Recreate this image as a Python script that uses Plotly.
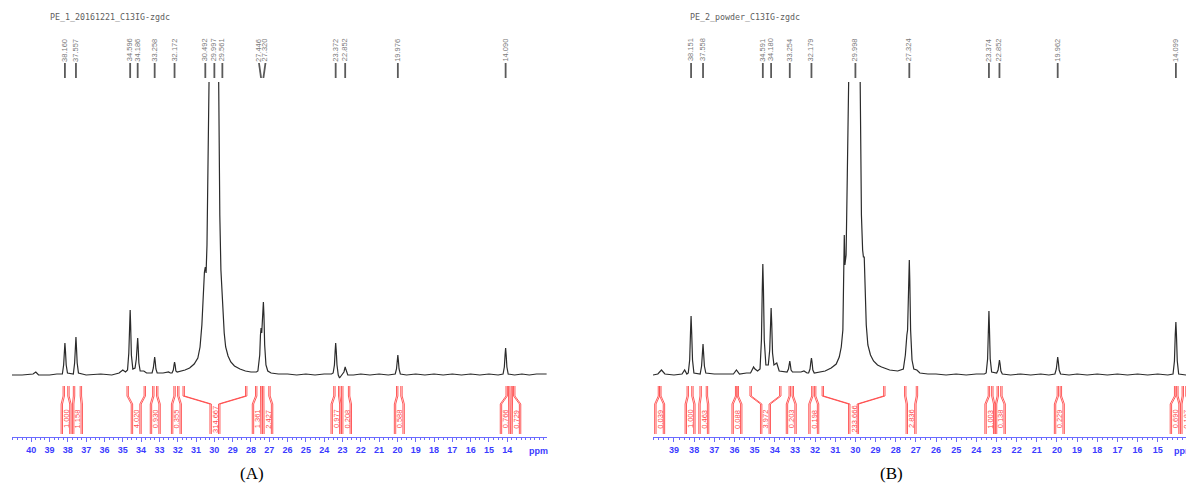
import plotly.graph_objects as go

# ---------------- data ----------------
title_a = "PE_1_20161221_C13IG-zgdc"
title_b = "PE_2_powder_C13IG-zgdc"

tick_a = list(range(40, 13, -1))
tick_b = list(range(39, 14, -1))

peaks_a = [38.160, 37.557, 34.596, 34.186, 33.258, 32.172, 30.492, 29.997,
           29.561, 27.446, 27.320, 23.372, 22.852, 19.976, 14.090]
peaks_b = [38.151, 37.558, 34.591, 34.180, 33.254, 32.179, 29.998, 27.324,
           23.374, 22.852, 19.962, 14.099]

int_a_from = [38.26, 37.70, 34.77, 33.37, 32.21, 31.71, 27.75, 27.37, 23.48, 23.05, 20.05, 14.07, 13.78]
int_a_to   = [37.93, 37.25, 33.76, 33.08, 31.93, 28.22, 27.40, 26.95, 23.14, 22.60, 19.74, 13.86, 13.58]
int_a_val  = ["1.000", "1.158", "4.020", "0.930", "0.355", "314.667", "1.361", "2.427",
              "0.977", "0.208", "0.588", "0.766", "0.729"]

int_b_from = [39.78, 38.35, 37.71, 35.95, 35.23, 33.29, 32.17, 31.65, 27.56, 23.41, 22.97, 19.99, 14.17, 13.79]
int_b_to   = [39.64, 38.05, 37.33, 35.80, 33.69, 33.07, 31.96, 28.53, 26.91, 23.17, 22.72, 19.77, 13.99, 13.54]
int_b_val  = ["0.039", "1.000", "0.463", "0.088", "3.972", "0.203", "0.198", "233.666",
              "2.836", "1.003", "0.138", "0.229", "0.690", "0.187"]

spec_a_ppm = [41.20, 40.50, 39.90, 39.75, 39.60, 39.00, 38.60,
              38.30, 38.23, 38.19, 38.16, 38.13, 38.09, 38.02,
              37.70, 37.63, 37.59, 37.557, 37.53, 37.49, 37.42,
              37.00, 36.20, 35.60, 35.20, 35.00, 34.85,
              34.74, 34.67, 34.63, 34.596, 34.57, 34.53, 34.45,
              34.33, 34.26, 34.22, 34.186, 34.16, 34.12, 34.05,
              33.85, 33.70, 33.40, 33.33, 33.29, 33.258, 33.23, 33.19, 33.12,
              32.80, 32.50, 32.40, 32.31, 32.24, 32.20, 32.172, 32.14, 32.10, 32.03,
              31.80, 31.60, 31.35, 31.10, 30.90, 30.78, 30.68, 30.60, 30.54, 30.492,
              30.45, 30.40, 30.36, 30.30, 30.20, 30.10, 29.997, 29.90, 29.82, 29.76,
              29.70, 29.64, 29.60, 29.561, 29.52, 29.46, 29.38, 29.25, 29.10, 28.90,
              28.60, 28.30, 28.00, 27.70,
              27.62, 27.52, 27.48, 27.446, 27.41, 27.37, 27.35, 27.32, 27.29, 27.25, 27.18, 27.08,
              26.90, 26.50, 26.00, 25.50, 25.00, 24.50, 24.00, 23.60,
              23.51, 23.44, 23.40, 23.372, 23.34, 23.30, 23.23, 23.16, 23.08,
              22.99, 22.92, 22.88, 22.852, 22.82, 22.78, 22.71,
              22.40, 22.00, 21.50, 21.00, 20.50,
              20.12, 20.05, 20.01, 19.976, 19.95, 19.91, 19.84,
              19.50, 19.00, 18.50, 18.00, 17.50, 17.00, 16.50, 16.00, 15.50, 15.00, 14.50,
              14.23, 14.16, 14.12, 14.09, 14.06, 14.02, 13.95,
              13.60, 13.20, 12.80, 12.40, 11.85]
spec_a_int = [0, 0, 1, 3, 0, 0, 1,
              1, 10, 24, 32, 24, 10, 2,
              1, 12, 28, 38, 28, 12, 2,
              0, 1, 0, 2, 5, 3,
              5, 22, 50, 65, 50, 20, 6,
              7, 16, 29, 37, 29, 12, 4,
              4, 2, 2, 7, 14, 18, 14, 6, 2,
              2, 3, 2, 2, 5, 10, 13, 10, 4, 3,
              4, 5, 7, 11, 17, 28, 50, 85, 103, 108,
              102, 130, 220, 360, 520, 650, 720, 620, 420, 260,
              160, 105, 88, 86, 70, 42, 28, 19, 13, 9,
              6, 4, 3, 3,
              4, 20, 40, 47, 42, 55, 66, 73, 60, 30, 10, 4,
              2, 1, 1, 0, 1, 0, 1, 1,
              2, 10, 24, 32, 24, 10, 0, -3, -1,
              1, 3, 6, 8, 6, 3, 0,
              0, 1, 0, 1, 0,
              1, 6, 15, 20, 15, 6, 1,
              0, 1, 0, 1, 0, 1, 0, 1, 0, 1, 0,
              1, 8, 20, 27, 20, 8, 1,
              0, 1, 0, 1, 1]

spec_b_ppm = [40.04, 39.80, 39.62, 39.45, 39.00, 38.60, 38.47, 38.36,
              38.29, 38.22, 38.18, 38.151, 38.12, 38.08, 38.01,
              37.70, 37.63, 37.59, 37.558, 37.53, 37.49, 37.42,
              37.00, 36.50, 36.05, 35.90, 35.75, 35.40,
              35.20, 35.10, 35.05, 34.98, 34.85,
              34.73, 34.66, 34.62, 34.591, 34.56, 34.52, 34.44,
              34.32, 34.25, 34.21, 34.18, 34.15, 34.11, 34.04, 33.90, 33.78,
              33.39, 33.32, 33.28, 33.254, 33.23, 33.19, 33.12,
              32.70, 32.55, 32.40,
              32.32, 32.25, 32.21, 32.179, 32.15, 32.11, 32.04,
              31.80, 31.50, 31.20, 30.95, 30.80, 30.70, 30.62, 30.58, 30.55, 30.52,
              30.46, 30.40, 30.33, 30.20, 30.10, 29.998, 29.90, 29.82, 29.76, 29.70,
              29.64, 29.60, 29.56, 29.52, 29.46, 29.38, 29.25, 29.10, 28.90, 28.70,
              28.30, 27.90, 27.70,
              27.62, 27.52, 27.47, 27.445, 27.41, 27.37, 27.35, 27.324, 27.30, 27.26, 27.19, 27.10,
              26.95, 26.80, 26.40, 26.00, 25.50, 25.00, 24.50, 24.00, 23.60,
              23.51, 23.44, 23.40, 23.374, 23.35, 23.31, 23.24,
              22.99, 22.92, 22.88, 22.852, 22.82, 22.78, 22.71,
              22.30, 21.80, 21.30, 20.80, 20.40,
              20.10, 20.03, 19.99, 19.962, 19.93, 19.89, 19.82,
              19.40, 19.00, 18.50, 18.00, 17.50, 17.00, 16.50, 16.00, 15.50, 15.00, 14.50,
              14.24, 14.17, 14.13, 14.099, 14.07, 14.03, 13.96,
              13.60, 13.20]
spec_b_int = [0, 1, 5, 1, 0, 1, 5, 1,
              2, 15, 42, 59, 42, 15, 2,
              1, 9, 22, 31, 22, 9, 2,
              1, 1, 1, 5, 1, 2,
              2, 6, 8, 6, 4,
              6, 35, 85, 111, 85, 35, 10,
              10, 25, 52, 67, 52, 22, 10, 12, 4,
              3, 6, 11, 14, 11, 5, 3,
              3, 4, 2,
              2, 6, 13, 17, 13, 5, 2,
              3, 4, 7, 11, 18, 28, 45, 90, 140, 110,
              120, 200, 330, 560, 700, 760, 650, 420, 240, 160,
              125, 118, 118, 95, 50, 30, 20, 14, 10, 8,
              5, 4, 5,
              6, 20, 38, 40, 45, 80, 100, 115, 95, 45, 15, 6,
              5, 2, 1, 1, 0, 1, 0, 1, 1,
              2, 16, 48, 64, 48, 16, 3,
              2, 5, 11, 15, 11, 4, 1,
              0, 1, 0, 1, 0,
              1, 6, 13, 18, 13, 5, 1,
              0, 1, 0, 1, 0, 1, 0, 1, 0, 1, 0,
              1, 14, 40, 53, 40, 14, 1,
              0, 1]

# ---------------- geometry / style ----------------
SCREEN_W, SCREEN_H = 1194, 487
OFF = 8                      # default page (body) margin of the html page
W, H = SCREEN_W - OFF, SCREEN_H - OFF

RED = "#ff4a4a"
BLUE_LINE = "#6a6aff"
BLUE_TXT = "#3b3bff"
Y_BASE = 375  # screen row of spectrum baseline


def yv(py):
    """screen row -> spectrum y units (1 unit = 1 px above baseline)"""
    return Y_BASE - py


def px_x(sx):
    return (sx - OFF) / W


def px_y(sy):
    return 1 - (sy - OFF) / H


panels = [
    dict(xa="x", ya="y", dom=(12, 547), rng=(41.05, 11.83), ticks=tick_a,
         title=title_a, title_x=48, peaks=peaks_a, spec=(spec_a_ppm, spec_a_int),
         ints=(int_a_from, int_a_to, int_a_val), ppm_x=538, cap="(A)", cap_x=252),
    dict(xa="x2", ya="y2", dom=(653, 1194), rng=(40.04, 13.2), ticks=tick_b,
         title=title_b, title_x=688, peaks=peaks_b, spec=(spec_b_ppm, spec_b_int),
         ints=(int_b_from, int_b_to, int_b_val), ppm_x=1183, cap="(B)", cap_x=891),
]

fig = go.Figure()
shapes = []
annotations = []
layout_axes = {}

for i, p in enumerate(panels):
    x0, x1 = p["dom"]
    r0, r1 = p["rng"]
    ppm_per_px = (r0 - r1) / (x1 - x0)
    sfx = "" if i == 0 else "2"

    layout_axes["xaxis" + sfx] = dict(
        domain=[max(0.0, px_x(x0)), min(1.0, px_x(x1))], range=[r0, r1], anchor=p["ya"],
        showline=True, linecolor=BLUE_LINE, linewidth=1.2,
        ticks="outside", ticklen=4, tickcolor=BLUE_LINE, tickwidth=1,
        tickmode="array", tickvals=p["ticks"], ticktext=[str(t) for t in p["ticks"]],
        tickfont=dict(family="Liberation Sans", size=9, color=BLUE_TXT, weight="bold"),
        showgrid=False, zeroline=False, fixedrange=True, automargin=False,
        minor=dict(tickmode="linear", tick0=0, dtick=0.25, ticklen=2,
                   tickcolor=BLUE_LINE, ticks="outside", showgrid=False),
    )
    layout_axes["yaxis" + sfx] = dict(
        domain=[px_y(437), px_y(82)], range=[-62, 293], anchor=p["xa"],
        visible=False, fixedrange=True,
    )

    # spectrum
    sx, sy = p["spec"]
    fig.add_trace(go.Scatter(x=sx, y=sy, mode="lines", xaxis=p["xa"], yaxis=p["ya"],
                             line=dict(color="#2b2b2b", width=1.2), hoverinfo="skip",
                             showlegend=False))

    # integrals
    lo, hi, vals = p["ints"]
    hw = 5.0 * ppm_per_px
    gap = 1.4 * ppm_per_px
    need = 2 * hw + 0.5 * ppm_per_px
    centers = [(a + b) / 2 for a, b in zip(lo, hi)]
    for _ in range(60):
        moved = False
        for k in range(len(centers) - 1):
            d = centers[k] - centers[k + 1]
            if d < need - 1e-9:
                s = (need - d) / 2
                centers[k] += s
                centers[k + 1] -= s
                moved = True
        if not moved:
            break
    ix, iy = [], []
    for a, b, c in zip(lo, hi, centers):
        for off in (0, gap):
            ix += [a - off, a - off, c + hw - off, c + hw - off, None]
            iy += [yv(386), yv(396), yv(404), yv(434), None]
            ix += [b + off, b + off, c - hw + off, c - hw + off, None]
            iy += [yv(386), yv(396), yv(404), yv(434), None]
    fig.add_trace(go.Scatter(x=ix, y=iy, mode="lines", xaxis=p["xa"], yaxis=p["ya"],
                             line=dict(color=RED, width=0.9), hoverinfo="skip",
                             showlegend=False))
    for c, v in zip(centers, vals):
        annotations.append(dict(x=c, y=yv(419), xref=p["xa"], yref=p["ya"], text=v,
                                showarrow=False, textangle=-90,
                                xanchor="center", yanchor="middle",
                                font=dict(family="Liberation Sans", size=7.5, color=RED)))

    # peak labels
    lab = list(p["peaks"])
    sep = 6.5 * ppm_per_px
    for _ in range(60):
        moved = False
        for k in range(len(lab) - 1):
            d = lab[k] - lab[k + 1]
            if d < sep - 1e-9:
                s = (sep - d) / 2
                lab[k] += s
                lab[k + 1] -= s
                moved = True
        if not moved:
            break
    for pk, lx in zip(p["peaks"], lab):
        annotations.append(dict(x=lx, y=px_y(50), xref=p["xa"], yref="paper",
                                text=f"{pk:.3f}", showarrow=False, textangle=-90,
                                xanchor="center", yanchor="middle",
                                font=dict(family="Liberation Sans", size=7.5, color="#7a7a7a")))
        shapes.append(dict(type="line", xref=p["xa"], yref="paper",
                           x0=lx, x1=pk, y0=px_y(63), y1=px_y(78),
                           line=dict(color="#5a5a5a", width=1.8)))

    # title, ppm label, caption
    annotations.append(dict(x=px_x(p["title_x"]), y=px_y(17), xref="paper", yref="paper",
                            xanchor="left", yanchor="middle", text=p["title"], showarrow=False,
                            font=dict(family="DejaVu Sans Mono", size=8.3, color="#606060")))
    annotations.append(dict(x=px_x(p["ppm_x"]), y=px_y(451), xref="paper", yref="paper",
                            xanchor="center", yanchor="middle",
                            text="ppm", showarrow=False,
                            font=dict(family="Liberation Sans", size=9, color=BLUE_TXT,
                                      weight="bold")))
    annotations.append(dict(x=px_x(p["cap_x"]), y=px_y(473), xref="paper", yref="paper",
                            xanchor="center", yanchor="middle",
                            text=p["cap"], showarrow=False,
                            font=dict(family="Liberation Serif", size=17, color="#000000")))

fig.update_layout(
    width=W, height=H, margin=dict(l=0, r=0, t=0, b=0, autoexpand=False),
    paper_bgcolor="white", plot_bgcolor="white",
    showlegend=False, shapes=shapes, annotations=annotations,
    **layout_axes,
)

fig.write_html("out.html")
